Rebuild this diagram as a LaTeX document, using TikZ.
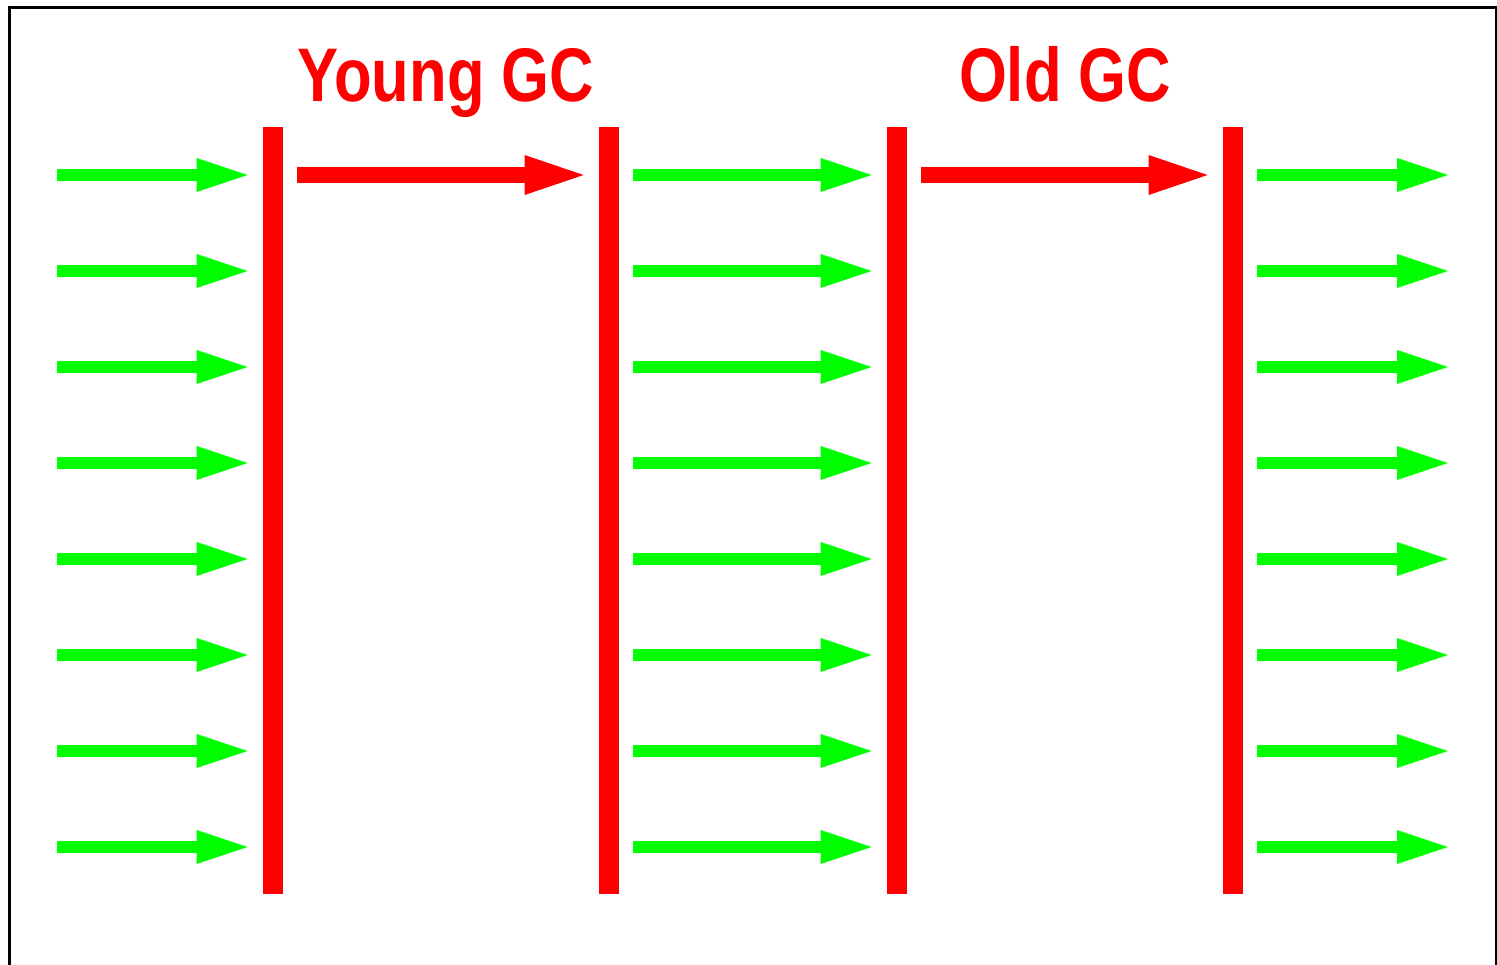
\documentclass[tikz,border=0pt]{standalone}
\usepackage{fontspec}
\setmainfont{Liberation Sans}
\usetikzlibrary{arrows.meta}

\tikzset{
  bar/.style={fill=red,inner sep=0,minimum width=10pt,minimum height=383.5pt},
  flow/.style={draw=green,line width=6pt,
    -{Triangle[length=25.5pt,width=17pt,line width=0pt]}},
  gcarrow/.style={draw=red,line width=8pt,
    -{Triangle[length=29.5pt,width=20pt,line width=0pt]}},
  gclabel/.style={text=red,font=\bfseries\fontsize{38}{40}\selectfont,
    xscale=0.81,transform shape,inner sep=0,anchor=base}
}

\begin{document}
\begin{tikzpicture}[x=0.5pt,y=-0.5pt]
  \useasboundingbox (0,0) rectangle (1497,964);
  \draw[line width=1.5pt] (9,990) -- (9,7) -- (1496,7) -- (1496,990);

  % the four stop-the-world bars
  \node[bar] (b1) at (273,510.5) {};
  \node[bar] (b2) at (609,510.5) {};
  \node[bar] (b3) at (897,510.5) {};
  \node[bar] (b4) at (1233,510.5) {};

  \node[gclabel] (young) at (446,101) {Young GC};
  \node[gclabel] (old) at (1065,101) {Old GC};

  \foreach \y [count=\i] in {175,271,...,847} {
    \coordinate (in\i) at (57,\y);
    \coordinate (out\i) at (1448,\y);
    \draw[flow,shorten >=7.5pt] (in\i) -- (b1.west |- in\i);
    \draw[flow,shorten <=7pt,shorten >=7.5pt] (b2.east |- in\i) -- (b3.west |- in\i);
    \draw[flow,shorten <=7pt] (b4.east |- in\i) -- (out\i);
  }

  \draw[gcarrow,shorten <=7pt,shorten >=7.5pt] (b1.east |- in1) -- (b2.west |- in1);
  \draw[gcarrow,shorten <=7pt,shorten >=7.5pt] (b3.east |- in1) -- (b4.west |- in1);
\end{tikzpicture}
\end{document}
